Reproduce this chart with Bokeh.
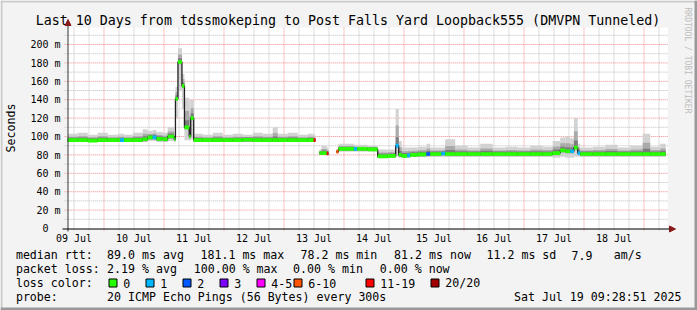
import math
import numpy as np
from bokeh.plotting import figure
from bokeh.models import Range1d, Arrow, NormalHead
from bokeh.core.properties import value
from bokeh.embed import file_html
from bokeh.resources import INLINE

nan = float("nan")

# ---------------- data (hours since window start 09 Jul 09:28:51) ----------------
t_edges = [0, 4, 8, 12, 16, 20, 21, 22.5, 26, 30, 32, 34, 35.5, 38, 40, 42.6, 43.1,
           44.1, 45.7, 46.7, 48.6, 49.2, 50.4, 54, 58, 62, 66, 70, 74, 78, 82, 84,
           88, 92, 96, 98.4, 99.1, 100.7, 101.5, 103.6, 104.3, 107.5, 108.3, 114.5,
           115.8, 120, 124, 128, 131.2, 132.4, 133.6, 135.8, 137, 140, 143.5, 145,
           149.5, 151, 155, 160, 165, 170, 175, 180, 185, 190, 194, 197, 199, 201,
           202.5, 204, 205, 210, 215, 220, 225, 230, 233, 237, 239.2]
median_ms = [96, 96, 95.5, 96, 96, 96, 96, 96, 96, 97, 99, 99, 97.5, 97, 100, 97,
             141, 181, 155, 110, 100, 120, 96, 96, 96, 96, 96, 96.5, 96, 96, 96, 96,
             96, 96, 96, 96, nan, 82, 82, 81.5, nan, 83.5, 86.5, 86.5, 86.5, 86,
             78.5, 79, 90, 80, 79, 79.5, 80, 80.5, 81, 81, 81.5, 81, 81, 81, 81, 81,
             81, 81, 81, 81, 82, 85, 84, 84, 88, 82, 81, 81, 81, 81, 81, 81, 81, 81]
min_ms = [94, 94, 94, 94, 94, 94, 94, 94, 94, 94, 95, 95, 94, 94, 95, 94,
          120, 150, 130, 96, 95, 97, 94, 94, 94, 94, 94, 94, 94, 94, 94, 94,
          94, 94, 94, 94, nan, 80, 80, 80, nan, 82, 84, 84, 84, 84,
          77, 77, 78, 77, 77, 77, 78, 78, 78, 78, 78, 78, 78, 78, 78, 78,
          78, 78, 78, 78, 77, 78, 77, 77, 78, 78, 78, 78, 78, 78, 78, 78, 78, 78]
max_ms = [103, 104, 102, 104, 102, 103, 103, 102, 104, 108, 106, 107, 105, 104, 110, 100,
          154, 196, 168, 142, 140, 140, 103, 102, 104, 102, 103, 102, 104, 103, 110, 103,
          104, 102, 103, 102, nan, 86, 90, 88, nan, 86, 92, 91, 91, 90,
          86, 86, 130, 95, 88, 88, 88, 89, 92, 88, 88, 97, 90, 88, 92, 88,
          89, 88, 90, 89, 95, 99, 100, 98, 120, 92, 88, 89, 91, 88, 90, 103, 89, 92]
loss_cls = [0, 0, 0, 0, 0, 0, 1, 0, 0, 0, 0, 1, 0, 0, 0, 0,
            0, 0, 0, 0, 0, 0, 0, 0, 0, 0, 0, 0, 0, 0, 0, 0,
            0, 0, 0, 6, 0, 0, 0, 6, 0, 5, 0, 1, 0, 0,
            0, 0, 1, 0, 0, 1, 0, 0, 2, 0, 1, 0, 0, 0, 0, 0,
            0, 0, 0, 0, 0, 0, 0, 1, 0, 1, 0, 0, 0, 0, 0, 0, 0, 0]

loss_labels = ["0", "1", "2", "3", "4-5", "6-10", "11-19", "20/20"]
loss_colors = ["#26ff00", "#00b8ff", "#0059ff", "#7e00ff", "#ff00ff", "#ff5500", "#ff0000", "#a10000"]

y_ticks = [0, 20, 40, 60, 80, 100, 120, 140, 160, 180, 200]
day_labels = ["09 Jul", "10 Jul", "11 Jul", "12 Jul", "13 Jul", "14 Jul", "15 Jul",
              "16 Jul", "17 Jul", "18 Jul"]

stats_rtt = ["89.0 ms avg", "181.1 ms max", "78.2 ms min", "81.2 ms now", "11.2 ms sd", "7.9", "am/s"]
stats_loss = ["2.19 % avg", "100.00 % max", "0.00 % min", "0.00 % now"]

# ---------------- geometry ----------------
W, H = 697, 310
FL, FR, FT, FB = 67.2, 667.2, 27, 228
START = 9 + 28 / 60 + 51 / 3600          # hours since 09 Jul 00:00
SPAN = 240.0
YMAX = 218.5
PXH = (FR - FL) / SPAN
PXM = (FB - FT) / YMAX
FONT = "DejaVu Sans Mono"
TFIX = 3.5          # measured shift of alphabetic text baseline in the rendering

# the frame covers the whole canvas; default ranges are canvas pixels (for page texts),
# extra ranges "t" (hours) and "ms" (milliseconds) carry the chart data
p = figure(width=W, height=H, x_range=Range1d(0, W), y_range=Range1d(H, 0),
           output_backend="svg", toolbar_location=None, x_axis_location=None,
           y_axis_location=None, title=None, min_border=0,
           background_fill_color="#F3F3F3", border_fill_color="#F3F3F3", outline_line_color=None)
p.xgrid.visible = False
p.ygrid.visible = False
p.extra_x_ranges = {"t": Range1d(START - FL / PXH, START + (W - FL) / PXH)}
p.extra_y_ranges = {"ms": Range1d(-(H - FB) / PXM, FB / PXM)}
R = dict(x_range_name="t", y_range_name="ms")

# chart canvas
p.quad(left=[START], right=[START + SPAN], bottom=[0], top=[YMAX], fill_color="white",
       line_color=None, **R)

# ---------------- grid ----------------
hrs6 = [h for h in range(6, 260, 6) if START < h < START + SPAN]
x_minor = [h for h in hrs6 if h % 24 != 0]
x_major = [h for h in hrs6 if h % 24 == 0]
y_minor = list(range(10, 220, 20))
y_major = y_ticks[1:]
GRAY, RED = "#BDBDBD", "#F08A8A"
TX, TY = 3 / PXH, 2 / PXM   # tick lengths outside the canvas

p.segment(x0=x_minor, x1=x_minor, y0=[-TY] * len(x_minor), y1=[YMAX] * len(x_minor),
          line_color=GRAY, line_dash="1 1", **R)
p.segment(x0=[START - TX] * len(y_minor), x1=[START + SPAN] * len(y_minor), y0=y_minor,
          y1=y_minor, line_color=GRAY, line_dash="1 1", **R)
p.segment(x0=x_major, x1=x_major, y0=[-TY] * len(x_major), y1=[YMAX] * len(x_major),
          line_color=RED, line_dash="1 1", **R)
p.segment(x0=[START - TX] * len(y_major), x1=[START + SPAN] * len(y_major), y0=y_major,
          y1=y_major, line_color=RED, line_dash="1 1", **R)

# ---------------- smoke + median ----------------
edges = np.array(t_edges) + START
med = np.array(median_ms, dtype=float)
lo = np.array(min_ms, dtype=float)
hi = np.array(max_ms, dtype=float)
ok = ~np.isnan(med)
left, right = edges[:-1][ok], edges[1:][ok]
m, l, h = med[ok], lo[ok], hi[ok]
lc = [loss_colors[c] for c, k in zip(loss_cls, ok) if k]

p.quad(left=left, right=right, bottom=l, top=h, fill_color="#D2D2D2", line_color=None, **R)
p.quad(left=left, right=right, bottom=np.maximum(l, m - 2.4), top=m + 0.55 * (h - m),
       fill_color="#AAAAAA", line_color=None, **R)
p.quad(left=left, right=right, bottom=m - 1.4, top=m + 0.2 * (h - m) + 1.2,
       fill_color="#7C7C7C", line_color=None, **R)

sx, sy = [], []
for a, b, v in zip(edges[:-1], edges[1:], med):
    sx += [a, b]
    sy += [v, v]
p.line(sx, sy, line_color="#202020", line_width=1.3, **R)

p.quad(left=left, right=right, bottom=m - 2.0, top=m + 2.0, fill_color=lc, line_color=None, **R)

# ---------------- tick labels ----------------
ylab = ["0\u00a0\u00a0" if t == 0 else f"{t} m" for t in y_ticks]
p.text(x=[START] * len(y_ticks), y=y_ticks, text=ylab, x_offset=-7.2, y_offset=3.6 - TFIX,
       text_align="right", text_baseline="alphabetic", text_font=value(FONT),
       text_font_size="10px", text_color="black", **R)
noon = [12.0 + 24 * i for i in range(len(day_labels))]
p.text(x=noon, y=[0] * len(noon), text=day_labels, y_offset=13.7 - TFIX, text_align="center",
       text_baseline="alphabetic", text_font=value(FONT), text_font_size="10px",
       text_color="black", **R)

# axis lines with arrow heads (canvas pixels)
p.add_layout(Arrow(x_start=67.5, y_start=231, x_end=67.5, y_end=19,
                   line_color="#333333", line_width=1,
                   end=NormalHead(size=6, fill_color="#8B1A1A", line_color="#8B1A1A")))
p.add_layout(Arrow(x_start=62, y_start=228.5, x_end=675, y_end=228.5,
                   line_color="black", line_width=1,
                   end=NormalHead(size=6, fill_color="#8B1A1A", line_color="#8B1A1A")))

# ---------------- page texts (canvas pixels) ----------------
def txt(s, px, py, size="11.6px", align="left", baseline="alphabetic", angle=0.0, color="black"):
    fix = TFIX if baseline == "alphabetic" else 0.0
    p.text(x=[px], y=[py - fix], text=[s], text_font=value(FONT), text_font_size=size,
           text_align=align, text_baseline=baseline, angle=angle, text_color=color)


txt("Last 10 Days from tdssmokeping to Post Falls Yard Loopback555 (DMVPN Tunneled)",
    347.5, 23.3, size="13.3px", align="center")
txt("Seconds", 10.3, 127.5, angle=math.pi / 2, align="center", baseline="middle")
txt("RRDTOOL / TOBI OETIKER", 686.5, 60, size="8px", angle=-math.pi / 2, align="center",
    baseline="middle", color="#BDBDBD")

rows = [258.3, 272.2, 286.1, 300.0]
txt("median rtt:", 15.4, rows[0])
for s, px in zip(stats_rtt, [106.6, 200.0, 300.0, 393.6, 486.0, 571.0, 613.3]):
    txt(s, px, rows[0])
txt("packet loss:", 15.4, rows[1])
for s, px in zip(stats_loss, [106.6, 193.3, 292.6, 379.3]):
    txt(s, px, rows[1])
txt("loss color:", 15.4, rows[2])
box_x = [108.5, 145.5, 182.5, 219.5, 256.5, 293.5, 365.5, 430.5]
p.quad(left=box_x, right=[b + 8 for b in box_x], top=[278.5] * 8, bottom=[286.5] * 8,
       fill_color=loss_colors, line_color="black", line_width=1)
for s, bx in zip(loss_labels, box_x):
    txt(s, bx + 14.3, rows[2])
txt("probe:", 15.4, rows[3])
txt("20 ICMP Echo Pings (56 Bytes) every 300s", 106.6, rows[3])
txt("Sat Jul 19 09:28:51 2025", 681, rows[3], align="right")

# ---------------- image border ----------------
p.segment(x0=[0, 1], y0=[1, 0], x1=[W, 1], y1=[1, H], line_color="#CBCBCB", line_width=2)
p.segment(x0=[0, 695.5], y0=[308.5, 0], x1=[W, 695.5], y1=[308.5, H], line_color="#999999",
          line_width=3)

open("out.html", "w").write(file_html(p, INLINE))
